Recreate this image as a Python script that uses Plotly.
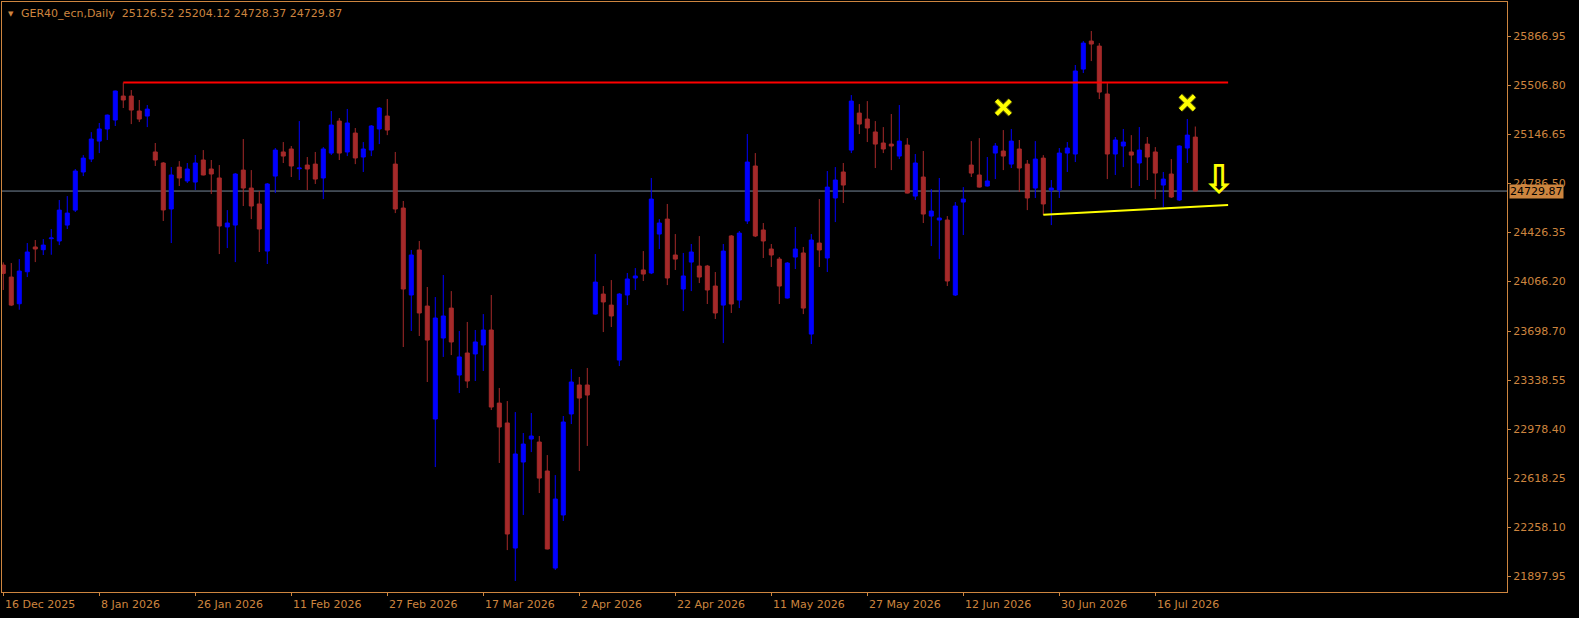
import pandas as pd
import plotly.graph_objects as go

# ---------------- data ----------------
chart_title = "GER40_ecn,Daily"
holidays = ["2025-12-24", "2025-12-25", "2025-12-26", "2025-12-31", "2026-01-01",
            "2026-04-03", "2026-04-06", "2026-05-01"]
dates = [d.strftime("%Y-%m-%d") for d in pd.bdate_range("2025-12-16", "2026-07-23")
         if d.strftime("%Y-%m-%d") not in holidays]

open_ = [24186, 24098, 23902, 24137, 24319, 24299, 24380, 24363, 24480, 24590,
         24870, 24965, 25097, 25186, 25252, 25428, 25428, 25318, 25281, 25017,
         24936, 24598, 24906, 24804, 24796, 24958, 24892, 24826, 24466, 24480,
         24884, 24752, 24635, 24289, 24840, 25017, 25039, 24894, 24921, 24928,
         24826, 25009, 25244, 25017, 25156, 24980, 25031, 25186, 25281, 24928,
         24605, 23966, 24297, 23885, 23055, 23650, 23870, 23378, 23540, 23533,
         23599, 23709, 23172, 23026, 22107, 22739, 22908, 22886, 22673, 21960,
         22350, 23092, 23305, 23305, 23826, 23973, 23892, 23488, 23966, 24091,
         24150, 24128, 24414, 24524, 24260, 24010, 24208, 24179, 24179, 24032,
         23892, 24400, 23929, 24510, 24914, 24444, 24304, 24230, 23944, 24245,
         24275, 23679, 24348, 24238, 24679, 24870, 25031, 25303, 25259, 25164,
         25083, 25075, 24987, 25068, 24693, 24833, 24546, 24517, 24517, 23966,
         24649, 24921, 24848, 24767, 25009, 25024, 24928, 25039, 24928, 24752,
         24972, 24737, 24737, 25009, 25002, 25626, 25832, 25795, 25443, 25002,
         25061, 25017, 24936, 25075, 25017, 24774, 24855, 24664, 25046, 25126.52]
high = [24206, 24201, 24230, 24348, 24370, 24377, 24451, 24664, 24693, 24892,
        24994, 25163, 25230, 25292, 25468, 25527, 25472, 25399, 25362, 25083,
        24943, 24906, 24950, 24936, 24995, 25031, 24958, 24921, 24590, 24862,
        25112, 24884, 24730, 24789, 25046, 25090, 25061, 25244, 24980, 25017,
        25053, 25318, 25266, 25333, 25193, 25090, 25215, 25347, 25406, 25017,
        24657, 24297, 24363, 24025, 23951, 24113, 23995, 23702, 23768, 23709,
        23826, 23966, 23283, 23187, 23106, 22952, 23099, 22930, 22790, 22643,
        23077, 23422, 23364, 23430, 24267, 24032, 24076, 23981, 24128, 24164,
        24289, 24826, 24524, 24635, 24414, 24275, 24341, 24399, 24187, 24135,
        24341, 24407, 24436, 25149, 25009, 24495, 24341, 24245, 24208, 24466,
        24319, 24414, 24671, 24877, 24906, 24936, 25435, 25369, 25391, 25244,
        25200, 25296, 25362, 25119, 25002, 25024, 24745, 24826, 24546, 24649,
        24759, 25097, 25119, 24980, 25083, 25178, 25186, 25105, 24958, 25097,
        24994, 24811, 25046, 25090, 25656, 25832, 25906, 25817, 25523, 25127,
        25186, 25141, 25200, 25127, 25053, 24870, 24965, 25065, 25259, 25204.12]
low = [24003, 23885, 23858, 24098, 24208, 24260, 24262, 24333, 24451, 24576,
       24840, 24943, 25009, 25105, 25208, 25340, 25222, 25237, 25200, 24914,
       24510, 24348, 24767, 24789, 24737, 24845, 24708, 24267, 24311, 24208,
       24620, 24524, 24282, 24194, 24715, 24936, 24833, 24811, 24737, 24782,
       24671, 24995, 24958, 24987, 24928, 24870, 24987, 25075, 25141, 24568,
       23584, 23702, 23665, 23327, 22702, 23511, 23525, 23246, 23283, 23334,
       23408, 23121, 22732, 22092, 21865, 22350, 22812, 22511, 22097, 21946,
       22306, 23018, 22673, 22857, 23822, 23694, 23731, 23444, 23892, 24003,
       24069, 24120, 24304, 24039, 24150, 23848, 23995, 24054, 23900, 23790,
       23613, 23834, 23870, 24488, 24392, 24238, 24172, 23900, 23940, 24157,
       23826, 23606, 24172, 24135, 24502, 24642, 25009, 25149, 25090, 24899,
       25009, 24884, 24965, 24712, 24664, 24495, 24326, 24231, 24032, 23959,
       24407, 24833, 24755, 24763, 24818, 24884, 24899, 24723, 24590, 24679,
       24554, 24480, 24679, 24870, 24943, 25597, 25685, 25406, 24818, 24848,
       24906, 24752, 24767, 24811, 24671, 24613, 24679, 24657, 24936, 24728.37]
close = [24125, 23892, 24142, 24282, 24304, 24333, 24385, 24590, 24568, 24877,
         24972, 25112, 25186, 25288, 25465, 25399, 25325, 25259, 25332, 24958,
         24591, 24848, 24826, 24892, 24936, 24848, 24855, 24473, 24495, 24855,
         24752, 24620, 24451, 24782, 25031, 24987, 24914, 24899, 24892, 24818,
         25039, 25215, 25009, 25230, 24973, 25039, 25208, 25340, 25178, 24598,
         24010, 24260, 23834, 23635, 23797, 23812, 23621, 23511, 23334, 23621,
         23709, 23143, 22996, 22210, 22798, 22871, 22930, 22621, 22100, 22467,
         23033, 23327, 23209, 23231, 24061, 23915, 23812, 23973, 24084, 24106,
         24120, 24671, 24495, 24091, 24230, 24106, 24282, 24098, 24003, 23834,
         24289, 23900, 24421, 24943, 24400, 24363, 24260, 24032, 24201, 24304,
         23870, 24370, 24297, 24759, 24811, 24774, 25391, 25222, 25193, 25075,
         25039, 25061, 25097, 24715, 24936, 24561, 24583, 24532, 24069, 24620,
         24671, 24862, 24759, 24804, 25061, 24987, 25097, 24899, 24679, 24965,
         24635, 24752, 25009, 25046, 25612, 25817, 25810, 25457, 25002, 25105,
         25090, 24994, 25031, 24980, 24862, 24818, 24686, 25061, 25141, 24729.87]

y_tick_values = [25866.95, 25506.80, 25146.65, 24786.50, 24426.35, 24066.20,
                 23698.70, 23338.55, 22978.40, 22618.25, 22258.10, 21897.95]
y_tick_labels = [f"{v:.2f}" for v in y_tick_values]
x_label_dates = dates[::12]
x_label_texts = [f"{pd.Timestamp(d).day} {pd.Timestamp(d).strftime('%b %Y')}" for d in x_label_dates]

resistance_level = 25527
resistance_start = "2026-01-13"
bars_ahead = 4.1                      # objects extend past the last bar
support_start = "2026-06-26"
support_start_price = 24556
support_end_price = 24628
cross_dates = ["2026-06-19", "2026-07-22"]
cross_prices = [25345, 25379]
arrow_price = 24822
arrow_bars_ahead = 2.9

# ---------------- style ----------------
BG = "#000000"
FG = "#CD853F"
BULL = "#0000FF"
BEAR = "#A52A2A"
FONT = "DejaVu Sans"

last_idx = len(dates) - 1
fig = go.Figure()
fig.add_trace(go.Candlestick(
    x=dates, open=open_, high=high, low=low, close=close,
    increasing=dict(line=dict(color=BULL, width=1), fillcolor=BULL),
    decreasing=dict(line=dict(color=BEAR, width=1), fillcolor=BEAR),
    whiskerwidth=0, showlegend=False, hoverinfo="x+y",
))

# yellow crosses (dark rim underneath, yellow stroke on top)
fig.add_trace(go.Scatter(
    x=cross_dates, y=cross_prices, mode="markers",
    marker=dict(symbol="x-thin", size=14, color="#4A4A00", line=dict(color="#4A4A00", width=6)),
    showlegend=False, hoverinfo="skip",
))
fig.add_trace(go.Scatter(
    x=cross_dates, y=cross_prices, mode="markers",
    marker=dict(symbol="x-thin", size=14, color="#FFFF00", line=dict(color="#FFFF00", width=4)),
    showlegend=False, hoverinfo="skip",
))

shapes = [
    dict(type="line", xref="paper", x0=0, x1=1, yref="y", y0=close[-1], y1=close[-1],
         line=dict(color="#778899", width=1), layer="below"),
    dict(type="line", xref="x", yref="y", x0=dates.index(resistance_start), x1=last_idx + bars_ahead,
         y0=resistance_level, y1=resistance_level, line=dict(color="#FF0000", width=2)),
    dict(type="line", xref="x", yref="y", x0=dates.index(support_start), x1=last_idx + bars_ahead,
         y0=support_start_price, y1=support_end_price, line=dict(color="#FFFF00", width=2)),
]

annotations = [
    dict(xref="paper", yref="paper", x=0, y=1, xanchor="left", yanchor="top",
         xshift=17, yshift=-3, showarrow=False,
         text=chart_title + "\u00a0\u00a0" + " ".join(f"{v:.2f}" for v in [open_[-1], high[-1], low[-1], close[-1]]),
         font=dict(family=FONT, size=11, color=FG)),
    dict(xref="paper", yref="paper", x=0, y=1, xanchor="left", yanchor="top",
         xshift=4, yshift=-6, showarrow=False, text="\u25BC",
         font=dict(family=FONT, size=7, color=FG)),
    dict(xref="paper", yref="y", x=1, y=close[-1], xanchor="left", yanchor="middle",
         xshift=2, showarrow=False, text=f"{close[-1]:.2f}", bgcolor=FG, borderpad=0,
         font=dict(family=FONT, size=11, color="#000000")),
    dict(xref="x", yref="y", x=last_idx + arrow_bars_ahead, y=arrow_price, showarrow=False,
         text="<b>\u21E9</b>", font=dict(family=FONT, size=40, color="#FFFF00")),
]
for d, t in zip(x_label_dates, x_label_texts):
    annotations.append(dict(xref="x", yref="paper", x=d, y=0, xanchor="left", yanchor="top",
                            yshift=-4, showarrow=False, text=t,
                            font=dict(family=FONT, size=11, color=FG)))

fig.update_layout(
    width=1579, height=618,
    margin=dict(l=2, r=72, t=2, b=26),
    paper_bgcolor=BG, plot_bgcolor=BG,
    boxgap=0.5, boxgroupgap=0,
    shapes=shapes, annotations=annotations,
    showlegend=False,
    xaxis=dict(type="category", range=[-0.16, 187.96], rangeslider=dict(visible=False),
               showgrid=False, zeroline=False, showline=True, mirror=True,
               linecolor=FG, linewidth=1, tickvals=x_label_dates, ticks="outside",
               ticklen=3, tickcolor=FG, showticklabels=False),
    yaxis=dict(side="right", range=[21784, 26119], showgrid=False, zeroline=False,
               showline=True, mirror=True, linecolor=FG, linewidth=1,
               tickvals=y_tick_values, ticktext=y_tick_labels, ticks="outside",
               ticklen=3, tickcolor=FG, tickfont=dict(family=FONT, size=11, color=FG)),
)

fig.write_html("out.html", config={"displayModeBar": False},
               post_script="document.body.style.margin='0px';document.body.style.background='#000';")
